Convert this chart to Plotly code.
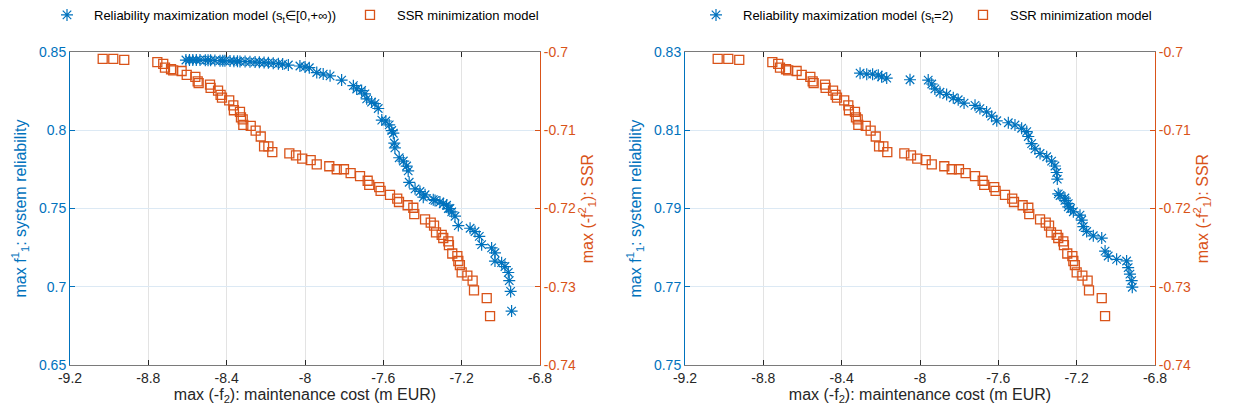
import plotly.graph_objects as go

# ---------------- data ----------------
x_ticks = [-9.2, -8.8, -8.4, -8.0, -7.6, -7.2, -6.8]
x_ticktext = ["-9.2", "-8.8", "-8.4", "-8", "-7.6", "-7.2", "-6.8"]

ssr_ticks = [-0.74, -0.73, -0.72, -0.71, -0.70]
ssr_ticktext = ["-0.74", "-0.73", "-0.72", "-0.71", "-0.7"]

left_ticks = [0.65, 0.70, 0.75, 0.80, 0.85]
left_ticktext = ["0.65", "0.7", "0.75", "0.8", "0.85"]

right_ticks = [0.75, 0.77, 0.79, 0.81, 0.83]
right_ticktext = ["0.75", "0.77", "0.79", "0.81", "0.83"]

# SSR minimization model (same in both panels)
ssr_cost = [-9.033, -8.979, -8.923, -8.754, -8.724, -8.715, -8.684, -8.673, -8.630, -8.604,
            -8.560, -8.548, -8.543, -8.485, -8.482, -8.444, -8.431, -8.424, -8.387, -8.366,
            -8.363, -8.332, -8.327, -8.318, -8.315, -8.277, -8.252, -8.226, -8.209, -8.187,
            -8.167, -8.080, -8.046, -8.014, -7.971, -7.940, -7.876, -7.838, -7.801, -7.767,
            -7.719, -7.680, -7.672, -7.621, -7.614, -7.566, -7.529, -7.520, -7.476, -7.447,
            -7.442, -7.387, -7.358, -7.341, -7.331, -7.302, -7.294, -7.268, -7.265, -7.248,
            -7.222, -7.217, -7.209, -7.200, -7.171, -7.144, -7.137, -7.072, -7.055]
ssr_value = [-0.70084, -0.70084, -0.70097, -0.70126, -0.70148, -0.70198, -0.70218, -0.70231, -0.70240, -0.70290,
             -0.70315, -0.70374, -0.70394, -0.70415, -0.70457, -0.70490, -0.70545, -0.70582, -0.70616, -0.70679,
             -0.70742, -0.70763, -0.70834, -0.70859, -0.70930, -0.70943, -0.71002, -0.71078, -0.71204, -0.71204,
             -0.71279, -0.71295, -0.71320, -0.71362, -0.71380, -0.71434, -0.71459, -0.71497, -0.71497, -0.71547,
             -0.71585, -0.71644, -0.71698, -0.71727, -0.71774, -0.71824, -0.71874, -0.71916, -0.71958, -0.71990,
             -0.72072, -0.72139, -0.72181, -0.72218, -0.72306, -0.72336, -0.72377, -0.72419, -0.72469, -0.72575,
             -0.72608, -0.72671, -0.72725, -0.72817, -0.72859, -0.72922, -0.73047, -0.73145, -0.73376]

# Reliability maximization model, s_t in [0, +inf)
rel_a_cost = [-8.608, -8.590, -8.573, -8.555, -8.536, -8.509, -8.495, -8.482, -8.460, -8.434,
              -8.420, -8.409, -8.383, -8.363, -8.345, -8.332, -8.306, -8.281, -8.255, -8.233,
              -8.209, -8.187, -8.162, -8.136, -8.114, -8.085, -8.026, -8.000, -7.978, -7.940,
              -7.907, -7.872, -7.813, -7.753, -7.736, -7.711, -7.694, -7.685, -7.660, -7.643,
              -7.626, -7.608, -7.587, -7.570, -7.557, -7.549, -7.544, -7.541, -7.519, -7.498,
              -7.481, -7.473, -7.468, -7.438, -7.413, -7.396, -7.387, -7.345, -7.336, -7.311,
              -7.294, -7.277, -7.268, -7.260, -7.251, -7.234, -7.217, -7.157, -7.132, -7.110,
              -7.098, -7.047, -7.030, -7.030, -6.996, -6.979, -6.962, -6.957, -6.950, -6.945]
rel_a_value = [0.8450, 0.8450, 0.8450, 0.8450, 0.8450, 0.8449, 0.8449, 0.8448, 0.8447, 0.8446,
               0.8446, 0.8445, 0.8444, 0.8443, 0.8442, 0.8441, 0.8440, 0.8439, 0.8437, 0.8436,
               0.8434, 0.8432, 0.8430, 0.8427, 0.8424, 0.8418, 0.8412, 0.8406, 0.8401, 0.8370,
               0.8360, 0.8349, 0.8322, 0.8286, 0.8265, 0.8255, 0.8234, 0.8202, 0.8181, 0.8171,
               0.8140, 0.8066, 0.8060, 0.8035, 0.7999, 0.7982, 0.7919, 0.7888, 0.7825, 0.7804,
               0.7772, 0.7741, 0.7668, 0.7626, 0.7609, 0.7573, 0.7588, 0.7557, 0.7552, 0.7542,
               0.7531, 0.7521, 0.7500, 0.7500, 0.7479, 0.7451, 0.7391, 0.7374, 0.7353, 0.7322,
               0.7269, 0.7248, 0.7217, 0.7164, 0.7154, 0.7129, 0.7091, 0.7039, 0.6970, 0.6844]

# Reliability maximization model, s_t = 2
rel_b_cost = [-8.306, -8.272, -8.242, -8.213, -8.196, -8.170, -8.051, -7.958, -7.940, -7.924,
              -7.898, -7.864, -7.830, -7.805, -7.775, -7.719, -7.694, -7.660, -7.634, -7.608,
              -7.549, -7.515, -7.481, -7.455, -7.447, -7.430, -7.413, -7.387, -7.353, -7.328,
              -7.311, -7.302, -7.299, -7.294, -7.285, -7.260, -7.260, -7.243, -7.243, -7.231,
              -7.217, -7.183, -7.174, -7.166, -7.149, -7.115, -7.072, -7.055, -7.039, -6.996,
              -6.945, -6.937, -6.928, -6.919, -6.916]
rel_b_value = [0.82464, 0.82439, 0.82439, 0.82414, 0.82371, 0.82338, 0.82296, 0.82288, 0.82187, 0.82062,
               0.81976, 0.81918, 0.81835, 0.81785, 0.81699, 0.81641, 0.81558, 0.81473, 0.81365, 0.81246,
               0.81196, 0.81138, 0.81055, 0.80970, 0.80844, 0.80660, 0.80527, 0.80409, 0.80326, 0.80215,
               0.80089, 0.79923, 0.79754, 0.79377, 0.79334, 0.79269, 0.79208, 0.79125, 0.79042, 0.79000,
               0.78917, 0.78831, 0.78706, 0.78540, 0.78414, 0.78303, 0.78245, 0.77911, 0.77785, 0.77700,
               0.77659, 0.77490, 0.77322, 0.77155, 0.76987]

# ---------------- style ----------------
BLUE = "#0072BD"
ORANGE = "#D95319"
AXGRAY = "#7a7a7a"
FONT = "Liberation Sans, Arial, sans-serif"
TICKSIZE = 14
TITLESIZE = 16
LEGSIZE = 13

star = dict(symbol="asterisk-open", size=10, color=BLUE, line=dict(color=BLUE, width=1.2))
square = dict(symbol="square-open", size=9, color=ORANGE, line=dict(color=ORANGE, width=1.3))

fig = go.Figure()
fig.add_trace(go.Scatter(x=rel_a_cost, y=rel_a_value, mode="markers", marker=star,
                         name="Reliability maximization model (s<sub>t</sub>\u2208[0,+\u221e))",
                         xaxis="x", yaxis="y", legend="legend", legendwidth=244))
fig.add_trace(go.Scatter(x=ssr_cost, y=ssr_value, mode="markers", marker=square,
                         name="SSR minimization model", xaxis="x", yaxis="y2", legend="legend"))
fig.add_trace(go.Scatter(x=rel_b_cost, y=rel_b_value, mode="markers", marker=star,
                         name="Reliability maximization model (s<sub>t</sub>=2)",
                         xaxis="x2", yaxis="y3", legend="legend2", legendwidth=208))
fig.add_trace(go.Scatter(x=ssr_cost, y=ssr_value, mode="markers", marker=square,
                         name="SSR minimization model", xaxis="x2", yaxis="y4", legend="legend2"))

W, H = 1239, 416
ydom = [1 - 364 / H, 1 - 46 / H]
xdom1 = [70 / W, 540 / W]
xdom2 = [685 / W, 1155 / W]


def xax(dom, anchor):
    return dict(domain=dom, anchor=anchor, range=[-9.2, -6.8], tickvals=x_ticks, ticktext=x_ticktext,
                ticks="inside", ticklen=5, tickcolor="#262626", showline=True, linecolor=AXGRAY,
                linewidth=1, mirror="ticks", showgrid=True, gridcolor="#E3E3E3", zeroline=False,
                tickfont=dict(size=TICKSIZE, color="#262626"), automargin=False,
                title=dict(text="max (-f<sub>2</sub>): maintenance cost (m EUR)",
                           font=dict(size=TITLESIZE, color="#262626"), standoff=0))


def yleft(anchor, rng, tv, tt, title):
    return dict(domain=ydom, anchor=anchor, range=rng, tickvals=tv, ticktext=tt,
                ticks="inside", ticklen=5, tickcolor=BLUE, showline=True, linecolor=BLUE, linewidth=1,
                showgrid=True, gridcolor="#DCE9F4", zeroline=False, automargin=False,
                tickfont=dict(size=TICKSIZE, color=BLUE),
                title=dict(text=title, font=dict(size=TITLESIZE, color=BLUE), standoff=8))


def yright(over, anchor, title):
    return dict(overlaying=over, anchor=anchor, side="right", range=[-0.74, -0.70],
                tickvals=ssr_ticks, ticktext=ssr_ticktext, ticks="inside", ticklen=5,
                tickcolor=ORANGE, showline=True, linecolor=ORANGE, linewidth=1, showgrid=False,
                zeroline=False, automargin=False, tickfont=dict(size=TICKSIZE, color=ORANGE),
                title=dict(text=title, font=dict(size=TITLESIZE, color=ORANGE), standoff=6))


left_title = "max f<sup>1</sup><sub>1</sub>: system reliability"
right_title = "max (-f<sup>2</sup><sub>1</sub>): SSR"

fig.update_layout(
    width=W, height=H,
    margin=dict(l=0, r=0, t=0, b=0),
    paper_bgcolor="white", plot_bgcolor="white",
    font=dict(family=FONT, color="#262626"),
    xaxis=xax(xdom1, "y"),
    yaxis=yleft("x", [0.65, 0.85], left_ticks, left_ticktext, left_title),
    yaxis2=yright("y", "x", right_title),
    xaxis2=xax(xdom2, "y3"),
    yaxis3=yleft("x2", [0.75, 0.83], right_ticks, right_ticktext, left_title),
    yaxis4=yright("y3", "x2", right_title),
    legend=dict(orientation="h", x=40 / W, xanchor="left", y=1 - 8 / H, yanchor="middle",
                bgcolor="rgba(0,0,0,0)", font=dict(size=LEGSIZE, color="#000000"),
                itemwidth=44, tracegroupgap=0),
    legend2=dict(orientation="h", x=689 / W, xanchor="left", y=1 - 8 / H, yanchor="middle",
                 bgcolor="rgba(0,0,0,0)", font=dict(size=LEGSIZE, color="#000000"),
                 itemwidth=44, tracegroupgap=0),
    showlegend=True,
)

fig.write_html("out.html", config={"displayModeBar": False},
               post_script="document.body.style.margin='0';document.body.style.overflow='hidden';")
